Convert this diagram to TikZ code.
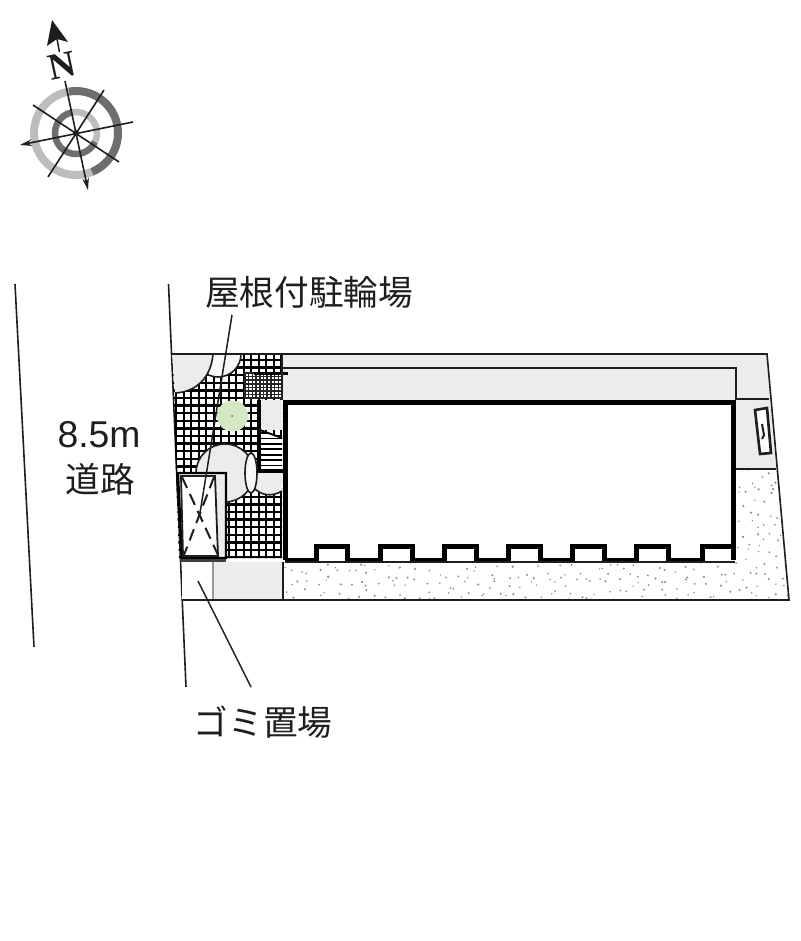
\documentclass[tikz,border=0pt]{standalone}
\usepackage{fontspec}
\setmainfont{Liberation Sans}
\newfontfamily\cjk{Noto Sans CJK JP}
\newfontfamily\serifn{Liberation Serif}
\usetikzlibrary{arrows.meta}
\definecolor{pale}{HTML}{ECECEC}
\definecolor{ringd}{HTML}{6E6E6E}
\definecolor{ringl}{HTML}{BDBDBD}
\definecolor{ink}{HTML}{1E1E1E}
\definecolor{tree}{HTML}{D4E8C4}
\tikzset{
 px/.style={line width=#1*0.75pt},
 outline/.style={draw=ink,px=1.6},
 wall/.style={draw=black,px=5,line join=miter},
 leader/.style={draw=ink,px=1.5},
 label/.style={inner sep=0pt,text=ink},
 cjklabel/.style={label,font=\cjk\fontsize{26pt}{28pt}\selectfont},
 compassline/.style={draw=ink,px=1.6},
 compassarrow/.style={compassline,-{Stealth[length=9pt,width=5pt]},{Stealth[length=9pt,width=5pt]}-}
}
\begin{document}
\begin{tikzpicture}[x=0.75pt,y=-0.75pt]
\useasboundingbox (0,0) rectangle (800,941);
\fill[white] (0,0) rectangle (800,941);

% road lines
\draw[outline] (15,284) -- (34,647);
\draw[outline] (168.5,284) -- (186,687);

% pale strips on the site
\fill[pale] (282,354) -- (767,354) -- (776,469) -- (736,469) -- (736,400) -- (282,400) -- cycle;
\fill[pale] (212,562) rectangle (283,600);

% dotted ground
\begin{scope}
\clip (283,562) -- (736,562) -- (736,469) -- (776,469) -- (789,600) -- (283,600) -- cycle;
\pgfmathsetseed{4217}
\foreach \cx in {0,...,50}{
 \foreach \cy in {0,...,13}{
  \pgfmathsetmacro{\rx}{283+\cx*10+10*rnd}
  \pgfmathsetmacro{\ry}{469+\cy*10+10*rnd}
  \pgfmathsetmacro{\rr}{0.75+0.45*rnd}
  \fill[black!45] (\rx,\ry) circle[radius=\rr];
 }
}
\end{scope}

% hatched yard
\begin{scope}
\clip (172,354) -- (282,354) -- (282,558) -- (179,558) -- cycle;
\foreach \k in {0,...,15}{
  \draw[black,px=2] (176+\k*7.5,354) -- (176+\k*7.5,560);
}
\foreach \k in {0,...,28}{
  \draw[black,px=2.4] (170,360+\k*7.6) -- (284,360+\k*7.6);
}
\end{scope}

% door swings top left
\fill[pale!40,draw=ink,px=1.6] (241,354) arc[start angle=0,end angle=180,radius=23] -- cycle;
\fill[pale] (172,354) -- (213,354) .. controls (211,378) and (196,392) .. (175,393) -- cycle;
\draw[outline] (213,354) .. controls (211,378) and (196,392) .. (175,393);

% dense stair square
\fill[white] (245,373) rectangle (282,398);
\foreach \k in {0,...,10}{\draw[black!85,px=1.5] (245+\k*3.7,373) -- (245+\k*3.7,398);}
\foreach \k in {0,...,7}{\draw[black!85,px=1.5] (245,373+\k*3.6) -- (282,373+\k*3.6);}
\draw[black,px=3.5] (254,373.5) -- (288,373.5);

% room and stair beside the building
\fill[pale] (260,400) rectangle (282,430);
\fill[white] (260,430) -- (282,438) -- (282,470) -- (260,470) -- cycle;
\begin{scope}
\clip (260,430) -- (282,438) -- (282,470) -- (260,470) -- cycle;
\foreach \k in {0,...,7}{\draw[black,px=1.8] (258,433+\k*5.4) -- (284,433+\k*5.4);}
\end{scope}
\draw[black,px=1.8] (260,430) -- (282,438);
\draw[black,px=4] (259,400) -- (259,471) -- (285,471);

% tree
\fill[tree] (232.5,416) circle[radius=15.5];
\fill[black!60] (232,416) circle[radius=1];

% round pale patches
\fill[pale,draw=ink,px=1.6] (225,473) circle[radius=29];
\fill[pale] (252,473) -- (282,473) -- (282,491) .. controls (272,497) and (261,496) .. (253,487) -- cycle;
\draw[ink,px=1.6] (253,487) .. controls (261,496) and (272,497) .. (282,491);
\fill[pale!40,draw=ink,px=1.6] (251,473) ellipse[x radius=6,y radius=20];
\draw[black,px=4] (257,471) -- (285,471);

% parking box
\fill[pale,draw=black,px=2.2] (178,473) -- (226,473) -- (226,558) -- (182,558) -- cycle;
\fill[white,draw=ink,px=1.8] (181,476) -- (215,476) -- (218,556) -- (183,556) -- cycle;
\draw[ink,px=2,dash pattern=on 9pt off 5pt] (182,477) -- (218,555);
\draw[ink,px=2,dash pattern=on 9pt off 5pt] (214,477) -- (184,555);

% rubbish box
\fill[white] (182,562) rectangle (212,599);
\fill[black!40] (211.5,562) rectangle (214,599);
\draw[black!75,px=2.2] (180,560.5) -- (226,560.5);

% site outline
\draw[outline] (172,354) -- (767,354) -- (789,600) -- (182,600);
\draw[outline] (282,354) -- (282,368) -- (736,368) -- (736,400);
\draw[outline] (282,368) -- (282,400);
\draw[outline] (736,399) -- (769,399);
\draw[outline] (736,469) -- (776,469);
\draw[outline] (283,562) -- (283,600);

% building
\fill[white] (287,402) rectangle (732,560);
\draw[wall] (285,560) -- (285,402) -- (733,402) -- (733,560);
\draw[wall] (285,560) -- (316,560) -- (316,546.5) -- (347,546.5) -- (347,560)
 -- (380,560) -- (380,546.5) -- (412,546.5) -- (412,560)
 -- (444,560) -- (444,546.5) -- (476,546.5) -- (476,560)
 -- (508,560) -- (508,546.5) -- (540,546.5) -- (540,560)
 -- (572,560) -- (572,546.5) -- (604,546.5) -- (604,560)
 -- (636,560) -- (636,546.5) -- (668,546.5) -- (668,560)
 -- (702,560) -- (702,546.5) -- (733,546.5);
\draw[ink,px=1.4] (285,562) -- (735,562);

% meter box
\fill[white,draw=ink,px=2.6] (755,410) -- (767,408) -- (771,453) -- (760,454) -- cycle;
\draw[ink,px=2] (762,424) -- (764,435) -- (762,439);

% leaders
\draw[leader] (232,315) -- (200,513);
\draw[leader] (198,581) -- (251,687);

% labels
\node[cjklabel] (lblRoof) at (309,292) {屋根付駐輪場};
\node[label,font=\fontsize{28pt}{30pt}\selectfont] (lblWidth) at (99,435) {8.5m};
\node[cjklabel] (lblRoad) at (100,479) {道路};
\node[cjklabel] (lblTrash) at (263,722) {ゴミ置場};

% compass
\draw[ringd,px=8] (76,133) ++(-100:42) arc[start angle=-100,end angle=68,radius=42];
\draw[ringl,px=8] (76,133) ++(68:42) arc[start angle=68,end angle=260,radius=42];
\draw[ringl,px=6.5] (76,133) ++(-100:21) arc[start angle=-100,end angle=25,radius=21];
\draw[ringd,px=6.5] (76,133) ++(25:21) arc[start angle=25,end angle=260,radius=21];
\coordinate (cN) at (65,81);
\coordinate (cS) at (88,190);
\coordinate (cW) at (20,145);
\coordinate (cE) at (133,122);
\draw[compassline,-{Stealth[length=9pt,width=5pt]}] (cN) -- (cS);
\draw[compassarrow] (cW) -- (cE);
\draw[compassline] (33,105) -- (119,162);
\draw[compassline] (104,90) -- (48,177);
\fill[ink] (76,133) circle[radius=3];
\fill[ink] (52,20) -- (68,42) -- (57,39) -- (47,46) -- cycle;
\draw[ink,px=1.5] (57,39) -- (59.5,52);
\node[label,font=\serifn\bfseries\fontsize{28pt}{30pt}\selectfont,rotate=12] (lblN) at (62,66) {N};
\end{tikzpicture}
\end{document}
